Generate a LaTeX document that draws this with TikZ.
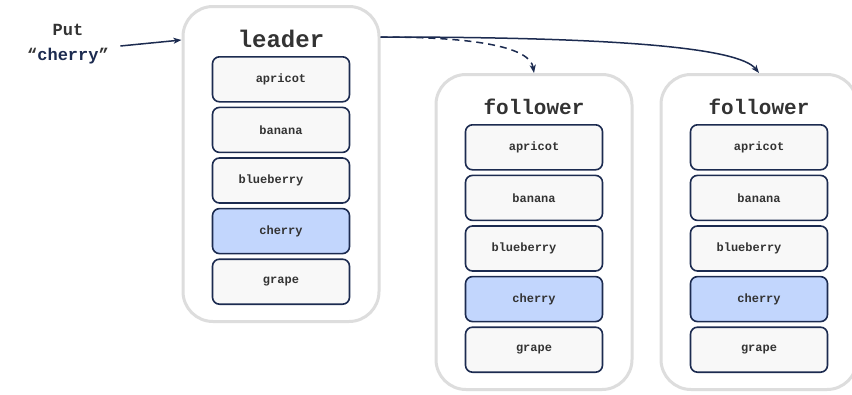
\documentclass[tikz,border=0pt]{standalone}
\usepackage{fontspec}
\setmonofont{Liberation Mono}
\usetikzlibrary{positioning}
\usetikzlibrary{arrows.meta}
\definecolor{navy}{HTML}{1C2B50}
\definecolor{itemfill}{HTML}{F8F8F8}
\definecolor{hitfill}{HTML}{C2D6FD}
\definecolor{boxgray}{HTML}{DDDDDD}
\definecolor{textgray}{HTML}{333333}
\tikzset{
 store/.style={draw=boxgray, line width=3pt, rounded corners=30pt, fill=white,
   minimum width=196pt, minimum height=315pt, inner sep=0pt},
 title/.style={font=\ttfamily\bfseries\fontsize{21}{21}\selectfont, text=textgray},
 bigtitle/.style={title, font=\ttfamily\bfseries\fontsize{24}{24}\selectfont},
 item/.style={draw=navy, line width=1.6pt, rounded corners=7pt, fill=itemfill,
   minimum width=137pt, minimum height=45pt, inner sep=0pt, text=textgray,
   font=\ttfamily\bfseries\fontsize{12}{12}\selectfont},
 hit/.style={item, fill=hitfill},
 link/.style={navy, line width=1.5pt, -{Stealth[length=8pt,width=6pt,inset=2pt]}},
}
\begin{document}
\begin{tikzpicture}[x=1pt, y=-1pt, node distance=4pt]
\clip (0,0) rectangle (852,394);
\fill[white] (0,0) rectangle (852,394);
% one store per replica
\node[store] (leader) at (281,164) {};
\node[store] (f1) at (534,232) {};
\node[store] (f2) at (759,232) {};
\foreach \s/\t/\f in {leader/leader/bigtitle, f1/follower/title, f2/follower/title} {
 \node[\f] (\s-title) at ([yshift=-34pt]\s.north) {\t};
 \node[item, below=51pt of \s.north] (\s-apricot) {apricot};
 \node[item, below=of \s-apricot] (\s-banana) {banana};
 \node[item, below=of \s-banana] (\s-blueberry) {\hspace*{-20pt}blueberry};
 \node[hit, below=of \s-blueberry] (\s-cherry) {cherry};
 \node[item, below=of \s-cherry] (\s-grape) {grape};
}
% client request
\node[font=\ttfamily\bfseries\fontsize{17}{25}\selectfont, text=textgray, align=center]
  (put) at (68,44) {Put\\“{\color{navy}cherry}”};
\draw[link] ([xshift=8pt,yshift=-2pt]put.east) -- ([yshift=-1pt]leader.west |- leader-title);
% replication
\coordinate (out) at ([yshift=2pt]leader.east |- leader-title);
\draw[link, dash pattern=on 7pt off 5pt] (out) .. controls +(100,0) and +(-4,-25) .. (f1.north);
\draw[link] (out) .. controls +(240,0) and +(-20,-25) .. (f2.north);
\end{tikzpicture}
\end{document}
